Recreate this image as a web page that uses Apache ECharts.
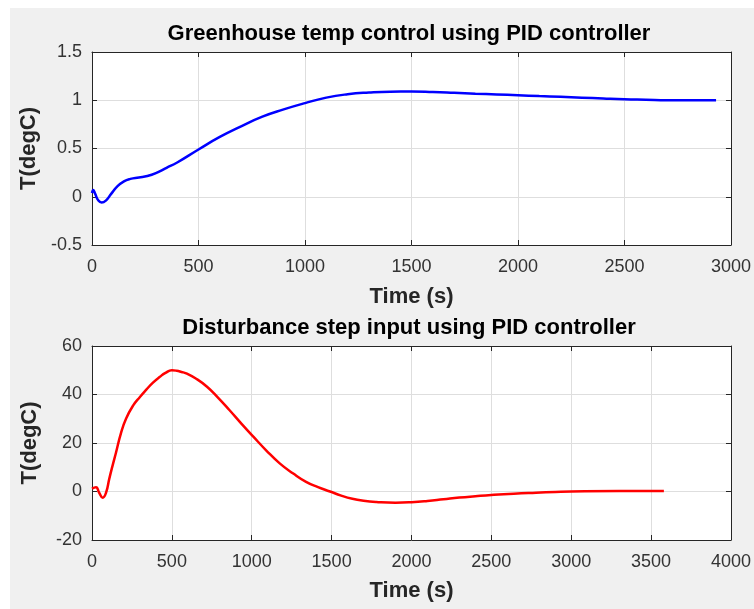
<!DOCTYPE html>
<html>
<head>
<meta charset="utf-8">
<script src="https://cdn.jsdelivr.net/npm/echarts@6/dist/echarts.min.js"></script>
<style>
html,body{margin:0;padding:0;background:#ffffff;}
#c{width:754px;height:609px;}
</style>
</head>
<body>
<div id="c"></div>
<script>
// ---- data ----
const topTitle = "Greenhouse temp control using PID controller";
const bottomTitle = "Disturbance step input using PID controller";
const xName = "Time (s)";
const yName = "T(degC)";

const topTime = [0, 6, 15, 30, 45, 65, 90, 120, 150, 180, 220, 260, 300, 350, 400, 500, 600, 700, 800, 900, 1000, 1100, 1200, 1300, 1400, 1500, 1600, 1700, 1800, 1900, 2000, 2100, 2200, 2300, 2400, 2500, 2600, 2700, 2800, 2930];
const topTemp = [0.04, 0.07, 0.03, -0.04, -0.06, -0.04, 0.03, 0.11, 0.16, 0.185, 0.2, 0.215, 0.245, 0.3, 0.355, 0.49, 0.62, 0.73, 0.83, 0.905, 0.97, 1.027, 1.062, 1.08, 1.089, 1.09, 1.085, 1.077, 1.068, 1.06, 1.052, 1.043, 1.035, 1.027, 1.018, 1.01, 1.005, 1.0, 1.0, 1.0];

const botTime = [0, 25, 45, 67, 88, 108, 130, 150, 181, 213, 258, 300, 340, 380, 425, 460, 500, 530, 560, 590, 650, 720, 790, 860, 935, 1010, 1090, 1175, 1260, 1340, 1415, 1490, 1560, 1630, 1700, 1780, 1900, 2000, 2100, 2200, 2300, 2400, 2500, 2640, 2780, 2900, 3000, 3300, 3580];
const botTemp = [1.2, 1.8, -0.5, -2.6, -0.5, 5.2, 11, 16, 24, 30, 35.5, 39.0, 42.0, 44.8, 47.3, 48.9, 50.0, 49.8, 49.3, 48.7, 46.6, 43.2, 38.6, 33.6, 28, 22.6, 17, 11.6, 7.4, 4, 1.8, 0, -1.7, -3, -3.8, -4.3, -4.6, -4.4, -3.9, -3.2, -2.5, -1.95, -1.45, -0.9, -0.5, -0.2, 0, 0.2, 0.2];

const topXTicks = {min: 0, max: 3000, interval: 500};
const topYTicks = {min: -0.5, max: 1.5, interval: 0.5};
const botXTicks = {min: 0, max: 4000, interval: 500};
const botYTicks = {min: -20, max: 60, interval: 20};

// ---- chart ----
const FONT = "Liberation Sans, Arial, Helvetica, sans-serif";
const AX = '#262626';
const GRID = '#dedede';
const plain = v => String(v);

function pairs(xs, ys){ return xs.map((x,i)=>[x, ys[i]]); }

function mainX(idx, ticks, gap){
  return {
    type:'value', gridIndex: idx, min:ticks.min, max:ticks.max, interval:ticks.interval,
    position:'bottom',
    name: xName, nameLocation:'middle', nameGap: gap,
    nameTextStyle:{fontFamily:FONT, fontSize:22, fontWeight:'bold', color:AX},
    axisLine:{show:true, onZero:false, lineStyle:{color:AX, width:1}},
    axisTick:{show:true, inside:true, length:5, lineStyle:{color:AX}},
    axisLabel:{fontFamily:FONT, fontSize:18, color:'#333', margin:13, formatter:plain},
    splitLine:{show:true, lineStyle:{color:GRID, width:1}}
  };
}
function sideX(idx, ticks){
  return {
    type:'value', gridIndex: idx, min:ticks.min, max:ticks.max, interval:ticks.interval,
    position:'top',
    axisLine:{show:true, onZero:false, lineStyle:{color:AX, width:1}},
    axisTick:{show:true, inside:true, length:5, lineStyle:{color:AX}},
    axisLabel:{show:false}, splitLine:{show:false}
  };
}
function mainY(idx, ticks){
  return {
    type:'value', gridIndex: idx, min:ticks.min, max:ticks.max, interval:ticks.interval,
    position:'left',
    name: yName, nameLocation:'middle', nameGap: 51, nameRotate: 90,
    nameTextStyle:{fontFamily:FONT, fontSize:22, fontWeight:'bold', color:AX},
    axisLine:{show:true, onZero:false, lineStyle:{color:AX, width:1}},
    axisTick:{show:true, inside:true, length:5, lineStyle:{color:AX}},
    axisLabel:{fontFamily:FONT, fontSize:18, color:'#333', margin:10, formatter:plain},
    splitLine:{show:true, lineStyle:{color:GRID, width:1}}
  };
}
function sideY(idx, ticks){
  return {
    type:'value', gridIndex: idx, min:ticks.min, max:ticks.max, interval:ticks.interval,
    position:'right',
    axisLine:{show:true, onZero:false, lineStyle:{color:AX, width:1}},
    axisTick:{show:true, inside:true, length:5, lineStyle:{color:AX}},
    axisLabel:{show:false}, splitLine:{show:false}
  };
}

const chart = echarts.init(document.getElementById('c'), null, {renderer:'canvas'});
chart.setOption({
  animation:false,
  backgroundColor:'#ffffff',
  graphic:[
    {type:'rect', left:10, top:8, shape:{width:744, height:601}, style:{fill:'#f0f0f0'}, z:-100, silent:true},
    {type:'text', x:409, y:34, z:10, style:{text: topTitle, textAlign:'center', textVerticalAlign:'middle',
      fontFamily:FONT, fontSize:22, fontWeight:'bold', fill:'#000'}},
    {type:'text', x:409, y:328, z:10, style:{text: bottomTitle, textAlign:'center', textVerticalAlign:'middle',
      fontFamily:FONT, fontSize:22, fontWeight:'bold', fill:'#000'}}
  ],
  grid:[
    {left:92, top:52, width:641, height:193, show:true, backgroundColor:'#ffffff', borderWidth:0},
    {left:92, top:346, width:640, height:194, show:true, backgroundColor:'#ffffff', borderWidth:0}
  ],
  xAxis:[mainX(0, topXTicks, 41), sideX(0, topXTicks), mainX(1, botXTicks, 40), sideX(1, botXTicks)],
  yAxis:[mainY(0, topYTicks), sideY(0, topYTicks), mainY(1, botYTicks), sideY(1, botYTicks)],
  series:[
    {type:'line', xAxisIndex:0, yAxisIndex:0, data:pairs(topTime, topTemp), smooth:0.5, showSymbol:false,
     lineStyle:{color:'#0000ff', width:2.5}},
    {type:'line', xAxisIndex:2, yAxisIndex:2, data:pairs(botTime, botTemp), smooth:0.5, showSymbol:false,
     lineStyle:{color:'#ff0000', width:2.5}}
  ]
});
</script>
</body>
</html>
